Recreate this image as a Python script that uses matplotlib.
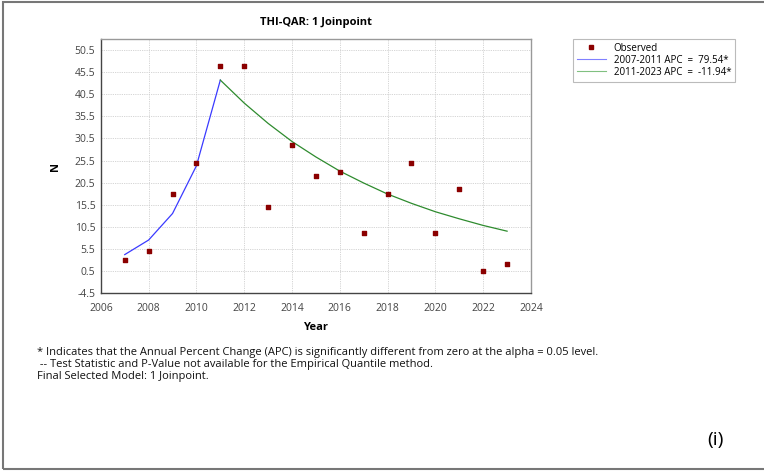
import matplotlib
matplotlib.use('agg')
import matplotlib.pyplot as plt
from matplotlib.patches import Rectangle
from matplotlib.lines import Line2D

plt.rcParams['font.family'] = ['Open Sans', 'DejaVu Sans']

years = [2007, 2008, 2009, 2010, 2011, 2012, 2013, 2014, 2015,
         2016, 2017, 2018, 2019, 2020, 2021, 2022, 2023]
observed = [3, 5, 18, 25, 47, 47, 15, 29, 22, 23, 9, 18, 25, 9, 19, 0.5, 2]

# modelled values for the two segments (joinpoint at 2011)
seg1_years = [2007, 2008, 2009, 2010, 2011]
seg1_fit = [4.2, 7.5, 13.5, 24.3, 43.7]
seg2_years = [2011, 2012, 2013, 2014, 2015, 2016, 2017,
              2018, 2019, 2020, 2021, 2022, 2023]
seg2_fit = [43.7, 38.5, 33.9, 29.8, 26.3, 23.1, 20.4,
            17.9, 15.8, 13.9, 12.3, 10.8, 9.5]

seg_labels = ['2007-2011 APC  =  79.54*', '2011-2023 APC  =  -11.94*']
yticks = [-4.5, 0.5, 5.5, 10.5, 15.5, 20.5, 25.5, 30.5, 35.5, 40.5, 45.5, 50.5]
xticks = list(range(2006, 2025, 2))

notes = [
    '* Indicates that the Annual Percent Change (APC) is significantly different from zero at the alpha = 0.05 level.',
    ' -- Test Statistic and P-Value not available for the Empirical Quantile method.',
    'Final Selected Model: 1 Joinpoint.',
]

fig = plt.figure(figsize=(7.64, 4.73), dpi=100)
ax = fig.add_axes([0.132, 0.3805, 0.563, 0.537])

ax.plot(seg1_years, seg1_fit, color='#3a3aff', lw=0.9, zorder=2)
ax.plot(seg2_years, seg2_fit, color='#2e8b2e', lw=0.9, zorder=2)
ax.scatter(years, observed, marker='s', s=9, color='#8b0000', zorder=3)

ax.set_xlim(2006, 2024)
ax.set_ylim(-4.5, 53)
ax.set_xticks(xticks)
ax.set_yticks(yticks)
ax.set_yticklabels([f'{v:.1f}' for v in yticks])
ax.tick_params(labelsize=7.5, colors='#444444', length=0)
ax.tick_params(axis='x', pad=7)
ax.tick_params(axis='y', pad=4)
ax.grid(True, color='#d0d0d0', ls=(0, (1.5, 1.2)), lw=0.6)
for s in ax.spines.values():
    s.set_color('#999999')
    s.set_linewidth(1)
ax.spines['left'].set_color('#444444')
ax.spines['bottom'].set_color('#444444')

ax.set_title('THI-QAR: 1 Joinpoint', fontsize=8, fontweight='bold', pad=10)
ax.set_xlabel('Year', fontsize=8, fontweight='bold', labelpad=6)
ax.set_ylabel('N', fontsize=8, fontweight='bold', labelpad=10)

handles = [
    Line2D([], [], marker='s', ls='none', color='#8b0000', markersize=3),
    Line2D([], [], color='#8080ff', lw=0.8),
    Line2D([], [], color='#80c080', lw=0.8),
]
leg = fig.legend(handles, ['Observed'] + seg_labels, loc='upper left',
                 bbox_to_anchor=(0.75, 0.918), fontsize=7, frameon=True,
                 fancybox=False, shadow=False, borderpad=0.4,
                 handlelength=3, labelspacing=0.1, borderaxespad=0)
leg.get_frame().set_edgecolor('#aaaaaa')
leg.get_frame().set_linewidth(0.8)

for i, line in enumerate(notes):
    fig.text(0.048, 1 - (352 + 12 * i) / 473, line, fontsize=8,
             va='center', ha='left', color='#111111')

fig.text(0.937, 1 - 440 / 473, '(i)', fontsize=14, va='center', ha='center')

# outer frame
fig.patches.append(Rectangle((0.004, 0.008), 1.2, 0.988, transform=fig.transFigure,
                             fill=False, edgecolor='#777777', lw=1.5))

fig.savefig('out.png', dpi=100)
